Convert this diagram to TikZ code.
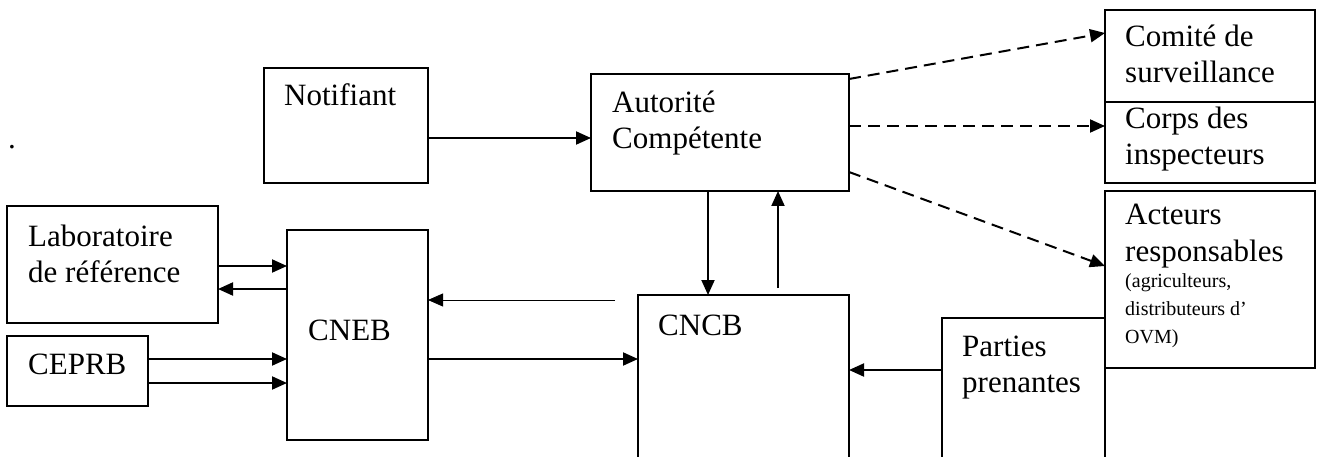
\documentclass[tikz,border=0pt]{standalone}
\usepackage{fontspec}
\setmainfont{Liberation Serif}
\usetikzlibrary{arrows.meta}
\begin{document}
\begin{tikzpicture}[x=1pt,y=-1pt,
  box/.style={draw,line width=2pt,inner sep=0pt,outer sep=0pt,anchor=north west,fill=white},
  txt/.style={anchor=base west,inner sep=0pt,align=left,font=\fontsize{31}{36}\selectfont},
  small/.style={anchor=base west,inner sep=0pt,align=left,font=\fontsize{20}{28}\selectfont},
  arr/.style={line width=2pt,-{Triangle[length=15pt,width=13pt]}},
  thinarr/.style={line width=0.8pt,-{Triangle[length=15pt,width=13pt]}},
  dasharr/.style={line width=2pt,dash pattern=on 12pt off 7pt,-{Triangle[length=15pt,width=13pt]}}]
\useasboundingbox (0,0) rectangle (1319,457);
\clip (0,0) rectangle (1319,457);
% boxes
\node[box,minimum width=164pt,minimum height=115pt] (notif) at (264,68) {};
\node[box,minimum width=258pt,minimum height=117pt] (aut) at (591,74) {};
\node[box,minimum width=211pt,minimum height=117pt] (lab) at (7,206) {};
\node[box,minimum width=141pt,minimum height=70pt] (ceprb) at (7,336) {};
\node[box,minimum width=141pt,minimum height=210pt] (cneb) at (287,230) {};
\node[box,minimum width=211pt,minimum height=190pt] (cncb) at (638,295) {};
\node[box,minimum width=163pt,minimum height=170pt] (parties) at (942,318) {};
\node[box,minimum width=210pt,minimum height=92pt] (comite) at (1105,10) {};
\node[box,minimum width=210pt,minimum height=81pt] (corps) at (1105,102) {};
\node[box,minimum width=210pt,minimum height=177pt] (acteurs) at (1105,191) {};
\draw[line width=2pt] (parties.north east) -- (parties.north east |- 0,470);
% texts (anchored at the baseline of the last line)
\node[txt] (dot) at (8,149) {.};
\node[txt] (tnotif) at (284,106) {Notifiant};
\node[txt] (taut) at (612,149) {Autorité\\Compétente};
\node[txt] (tlab) at (28,282) {Laboratoire\\de référence};
\node[txt] (tceprb) at (28,374) {CEPRB};
\node[txt] (tcneb) at (308,340) {CNEB};
\node[txt] (tcncb) at (658,335) {CNCB};
\node[txt] (tparties) at (962,392) {Parties\\prenantes};
\node[txt] (tcomite) at (1125,83) {Comité de\\surveillance};
\node[txt] (tcorps) at (1125,165) {Corps des\\inspecteurs};
\node[txt] (tact) at (1125,261) {Acteurs\\responsables};
\node[small] (tact2) at (1125,343) {(agriculteurs,\\distributeurs d’\\OVM)};
% connectors
\coordinate (thinstart) at (615,300);
\coordinate (upstart) at (778,288);
\draw[arr] (notif.east |- 0,138) -- (aut.west |- 0,138);
\draw[arr] (lab.east |- 0,266) -- (cneb.west |- 0,266);
\draw[arr] (cneb.west |- 0,289) -- (lab.east |- 0,289);
\draw[arr] (ceprb.east |- 0,359) -- (cneb.west |- 0,359);
\draw[arr] (ceprb.east |- 0,383) -- (cneb.west |- 0,383);
\draw[thinarr] (thinstart) -- (cneb.east |- thinstart);
\draw[arr] (cneb.east |- 0,359) -- (cncb.west |- 0,359);
\draw[arr] (aut.south -| 708,0) -- (cncb.north -| 708,0);
\draw[arr] (upstart) -- (aut.south -| upstart);
\draw[arr] (parties.west |- 0,370) -- (cncb.east |- 0,370);
\draw[dasharr] (aut.east |- 0,79) -- (comite.west |- 0,33);
\draw[dasharr] (aut.east |- 0,126) -- (corps.west |- 0,126);
\draw[dasharr] (aut.east |- 0,172) -- (acteurs.west |- 0,266);
\end{tikzpicture}
\end{document}
